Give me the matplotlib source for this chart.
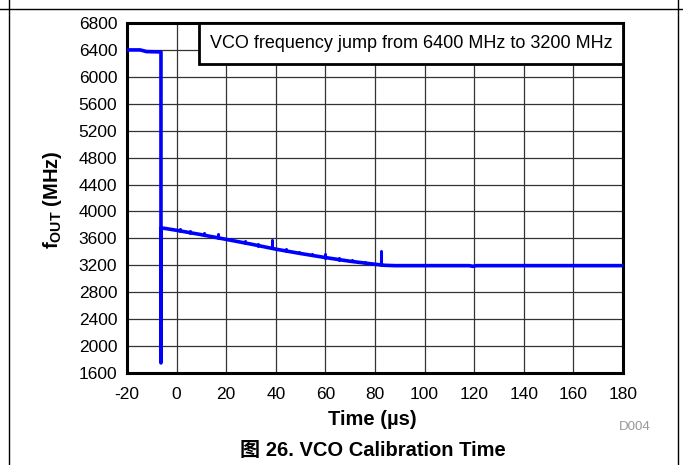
import matplotlib
matplotlib.use('Agg')
import matplotlib.pyplot as plt
from matplotlib.lines import Line2D
from matplotlib.patches import Rectangle

plt.rcParams['font.family'] = ['Liberation Sans', 'Noto Sans CJK SC', 'DejaVu Sans']
plt.rcParams['mathtext.fontset'] = 'custom'
plt.rcParams['mathtext.rm'] = 'Liberation Sans'
plt.rcParams['mathtext.bf'] = 'Liberation Sans:bold'

# main trace (time in us, frequency in MHz)
time_us = [-20, -14.7, -12.1, -6.3, -6.3, -6.2, -5, 0, 10, 20, 30, 40, 50, 60, 70, 80,
           84, 88, 118, 119.5, 121, 180]
f_mhz = [6400, 6400, 6375, 6370, 1750, 3750, 3750, 3720, 3655, 3585, 3515, 3440, 3375,
         3315, 3260, 3215, 3200, 3195, 3195, 3185, 3195, 3195]

# small glitches on the calibration ramp
spike_t = [1.5, 5.6, 10.9, 16.7, 22, 27.6, 32.9, 38.4, 44, 49.3, 54.6, 60, 65.3, 70.6, 76, 82.4]
spike_lo = [3711, 3686, 3654, 3613, 3575, 3533, 3493, 3452, 3414, 3380, 3347, 3315, 3286,
            3257, 3232, 3205]
spike_hi = [3735, 3710, 3678, 3665, 3598, 3556, 3516, 3575, 3437, 3403, 3370, 3365, 3309,
            3280, 3255, 3420]

xticks = list(range(-20, 181, 20))
yticks = list(range(1600, 6801, 400))

W, H = 683, 465
fig = plt.figure(figsize=(6.83, 4.65), dpi=100)
ax = fig.add_axes([127 / W, 1 - 373 / H, 496 / W, 350 / H])

ax.plot(time_us, f_mhz, color='#0000ff', lw=2.6, solid_capstyle='round',
        solid_joinstyle='round', zorder=3)
ax.vlines(spike_t, spike_lo, spike_hi, color='#0000ff', lw=2.2, capstyle='round', zorder=3)

ax.set_xlim(-20, 180)
ax.set_ylim(1600, 6800)
ax.set_xticks(xticks)
ax.set_yticks(yticks)
ax.set_xticklabels([str(v) for v in xticks])
ax.grid(True, color='#333333', lw=0.9)
ax.tick_params(length=0, labelsize=12.5)
ax.tick_params(axis='x', pad=10)
ax.tick_params(axis='y', pad=7)
for s in ax.spines.values():
    s.set_linewidth(2.2)

fig.text(372.5 / W, 1 - 419 / H, 'Time (µs)', fontsize=14.5, fontweight='bold',
         ha='center', va='center')
fig.text(53 / W, 1 - 200 / H, r'$\mathbf{f_{OUT}}$ (MHz)', fontsize=14.5, fontweight='bold',
         rotation=90, ha='center', va='center')

# annotation box in top right corner
box = Rectangle((0.145, 0.882), 0.855, 0.118, transform=ax.transAxes, facecolor='white',
                edgecolor='black', lw=2.0, zorder=4, clip_on=False)
ax.add_patch(box)
ax.text(0.5725, 0.941, 'VCO frequency jump from 6400 MHz to 3200 MHz', transform=ax.transAxes,
        ha='center', va='center', fontsize=13, zorder=5)

fig.text(635 / W, 1 - 427 / H, 'D004', color='#999999', fontsize=9.6, ha='center', va='center')
fig.text(373 / W, 1 - 450 / H, '图 26. VCO Calibration Time', fontsize=14.5,
         fontweight='bold', ha='center', va='center')

# page frame
fig.add_artist(Line2D([0, 1], [1 - 9.5 / H] * 2, color='black', lw=1.0))
fig.add_artist(Line2D([9 / W] * 2, [0, 1], color='black', lw=1.0))
fig.add_artist(Line2D([678 / W] * 2, [0, 1], color='black', lw=1.0))

fig.savefig('out.png', dpi=100)
